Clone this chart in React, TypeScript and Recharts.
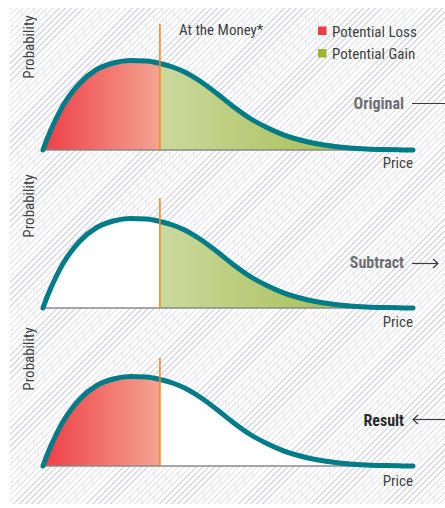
import React from 'react';
import { ComposedChart, Area, Line, XAxis, YAxis } from 'recharts';

// Price grid (0 = far left of the distribution, 100 = far right tail)
const price = [0, 1, 2, 3.5, 5.5, 7.5, 10, 14.5, 19, 23.5, 28, 31.6, 35, 38, 42.4, 47, 51.4, 56, 60.5, 65, 69.5, 74, 78.5, 83, 87.5, 92, 96, 100];
// Probability density at each price
const probability = [0, 10, 19, 31, 45, 56, 67, 80.5, 87, 89.5, 89, 86.5, 83, 78.5, 69, 56.5, 43.5, 31.5, 22.5, 15.2, 10, 6.3, 3.8, 2.1, 1.1, 0.5, 0.15, 0];
// Strike price ("At the Money")
const strike = 31.6;

const panelTitles = ['Original', 'Subtract', 'Result'];
const showLoss = [true, false, true];
const showGain = [true, true, false];
const strikeHeight = [126, 110, 108];

const rows = price.map((p, i) => ({
  price: p,
  probability: probability[i],
  loss: p <= strike ? probability[i] : undefined,
  gain: p >= strike ? probability[i] : undefined,
}));

const FONT = "'Liberation Sans Narrow', 'Roboto Condensed', 'DejaVu Sans Condensed', Roboto, sans-serif";

const W = 445;
const PANEL_H = 160;
const PANEL_TOPS = [0, 158, 316];
const Y_MAX = 130;

function Panel({ idx }: { idx: number }) {
  const lossId = `lossGrad${idx}`;
  const gainId = `gainGrad${idx}`;
  const strikeData = [
    { price: strike, v: 0 },
    { price: strike, v: strikeHeight[idx] },
  ];
  const baseData = [
    { price: 0, v: 0 },
    { price: 100, v: 0 },
  ];
  return (
    <div style={{ position: 'absolute', left: 0, top: PANEL_TOPS[idx] }}>
      <ComposedChart
        width={W}
        height={PANEL_H}
        data={rows}
        margin={{ top: 20, right: 32, bottom: 10, left: 43 }}
      >
        <defs>
          <linearGradient id={lossId} x1="0" y1="0" x2="1" y2="0">
            <stop offset="0%" stopColor="#ee3e45" />
            <stop offset="100%" stopColor="#f5a492" />
          </linearGradient>
          <linearGradient id={gainId} x1="0" y1="0" x2="1" y2="0">
            <stop offset="0%" stopColor="#cbd99e" />
            <stop offset="100%" stopColor="#9ab435" />
          </linearGradient>
        </defs>
        <XAxis type="number" dataKey="price" domain={[0, 100]} hide />
        <YAxis type="number" domain={[0, Y_MAX]} hide />
        <Area
          type="monotone"
          dataKey="probability"
          fill="#ffffff"
          fillOpacity={1}
          stroke="none"
          isAnimationActive={false}
        />
        {showLoss[idx] && (
          <Area
            type="monotone"
            dataKey="loss"
            fill={`url(#${lossId})`}
            fillOpacity={1}
            stroke="none"
            isAnimationActive={false}
          />
        )}
        {showGain[idx] && (
          <Area
            type="monotone"
            dataKey="gain"
            fill={`url(#${gainId})`}
            fillOpacity={1}
            stroke="none"
            isAnimationActive={false}
          />
        )}
        <Line
          data={baseData}
          dataKey="v"
          type="linear"
          stroke="#8a8a8a"
          strokeWidth={1.5}
          dot={false}
          isAnimationActive={false}
        />
        <Line
          type="monotone"
          dataKey="probability"
          stroke="#007b88"
          strokeWidth={5}
          strokeLinecap="round"
          dot={false}
          isAnimationActive={false}
        />
        <Line
          data={strikeData}
          dataKey="v"
          type="linear"
          stroke="#f28a1e"
          strokeWidth={1.6}
          dot={false}
          isAnimationActive={false}
        />
      </ComposedChart>
    </div>
  );
}

function Annotations() {
  const probCenters = [47, 206, 359];
  const priceBaselines = [168, 327, 486];
  return (
    <svg
      width={W}
      height={508}
      style={{ position: 'absolute', left: 0, top: 0, pointerEvents: 'none' }}
      fontFamily={FONT}
    >
      {probCenters.map((c, i) => (
        <text
          key={`p${i}`}
          x={0}
          y={0}
          transform={`translate(34, ${c}) rotate(-90)`}
          textAnchor="middle"
          fontSize={15}
          fill="#3f3f3f"
        >
          Probability
        </text>
      ))}
      {priceBaselines.map((b, i) => (
        <text key={`x${i}`} x={413} y={b} textAnchor="end" fontSize={15} fill="#3f3f3f">
          Price
        </text>
      ))}
      <text x={179} y={35} fontSize={15} fill="#3f3f3f">
        At the Money*
      </text>
      <rect x={318} y={26.5} width={8.5} height={8.5} fill="#ee3e48" />
      <text x={332} y={36.5} fontSize={15} fill="#3f3f3f">
        Potential Loss
      </text>
      <rect x={318} y={49} width={8.5} height={8.5} fill="#9bb52e" />
      <text x={332} y={59} fontSize={15} fill="#3f3f3f">
        Potential Gain
      </text>

      <text x={404} y={109} textAnchor="end" fontSize={16} fontWeight="bold" fill="#6d6e71">
        {panelTitles[0]}
      </text>
      <line x1={412} y1={103.5} x2={445} y2={103.5} stroke="#3a3a3a" strokeWidth={1.2} />

      <text x={404} y={268} textAnchor="end" fontSize={16} fontWeight="bold" fill="#6d6e71">
        {panelTitles[1]}
      </text>
      <line x1={412} y1={263.5} x2={437} y2={263.5} stroke="#3a3a3a" strokeWidth={1.2} />
      <polyline points="433,259 438,263.5 433,268" fill="none" stroke="#3a3a3a" strokeWidth={1.2} />

      <text x={404} y={426} textAnchor="end" fontSize={16} fontWeight="bold" fill="#2a2a2a">
        {panelTitles[2]}
      </text>
      <line x1={414} y1={419.5} x2={445} y2={419.5} stroke="#3a3a3a" strokeWidth={1.2} />
      <polyline points="418,415 413,419.5 418,424" fill="none" stroke="#3a3a3a" strokeWidth={1.2} />
    </svg>
  );
}

export default function App() {
  return (
    <div
      style={{
        position: 'absolute',
        left: 0,
        top: 0,
        width: W,
        height: 508,
        background: '#ffffff',
        overflow: 'hidden',
      }}
    >
      <div
        style={{
          position: 'absolute',
          left: 10,
          top: 8,
          width: W - 10,
          height: 496,
          backgroundImage:
            'repeating-linear-gradient(135deg, #dadae4 0px, #dadae4 1px, #ffffff 1px, #ffffff 4.3px)',
        }}
      />
      <Panel idx={0} />
      <Panel idx={1} />
      <Panel idx={2} />
      <Annotations />
    </div>
  );
}
